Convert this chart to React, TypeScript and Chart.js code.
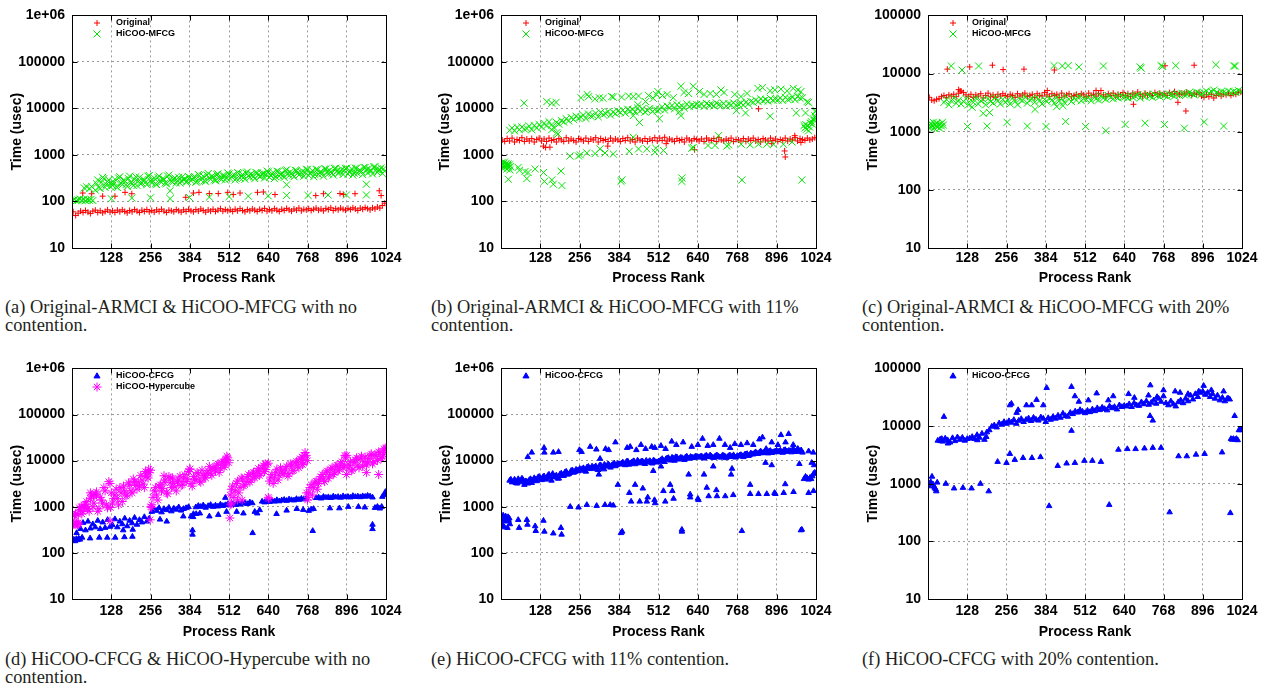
import React, { useEffect, useRef } from "react";
import { Chart, registerables } from "chart.js";
Chart.register(...registerables);

type Pair = [number, number];

// ---------- axes ----------
const X_TICKS = [128, 256, 384, 512, 640, 768, 896, 1024];
const Y_TICKS_6 = [10, 100, 1000, 10000, 100000, 1000000];
const Y_LABELS_6 = ["10", "100", "1000", "10000", "100000", "1e+06"];
const Y_TICKS_5 = [10, 100, 1000, 10000, 100000];
const Y_LABELS_5 = ["10", "100", "1000", "10000", "100000"];
const X_TITLE = "Process Rank";
const Y_TITLE = "Time (usec)";

// ---------- (a) no contention : Original vs HiCOO-MFCG ----------
// band values sampled every 8 ranks, starting at rank 4
const A_ORIG_BAND = [
  60, 50, 56, 62, 58, 64, 59, 55, 62, 65, 58, 63, 57, 61, 66, 59,
  63, 58, 65, 60, 66, 61, 57, 64, 60, 67, 62, 58, 65, 61, 67, 60,
  64, 59, 66, 61, 68, 62, 58, 65, 63, 60, 67, 63, 59, 66, 61, 68,
  63, 60, 67, 62, 69, 64, 59, 66, 62, 68, 61, 65, 70, 62, 67, 63,
  66, 61, 68, 63, 70, 64, 60, 67, 63, 69, 65, 61, 68, 64, 71, 62,
  67, 63, 70, 65, 61, 68, 64, 71, 66, 62, 69, 65, 72, 63, 68, 66,
  70, 64, 68, 72, 65, 69, 63, 71, 67, 73, 64, 70, 66, 72, 68, 65,
  71, 67, 73, 69, 64, 72, 68, 74, 70, 66, 73, 69, 76, 72, 82, 92,
];
const A_ORIG_EXTRA: Pair[] = [
  [35, 152], [64, 147], [100, 130], [140, 130], [173, 157], [195, 147], [371, 123], [396, 152],
  [414, 157], [448, 148], [477, 148], [508, 157], [526, 141], [548, 152], [605, 157], [624, 160],
  [662, 141], [795, 134], [820, 147], [874, 148], [885, 141], [923, 147], [1002, 170], [1008, 134],
];
// band from rank 76, every 8 ranks
const A_MFCG_BAND = [
  175, 290, 190, 330, 200, 270, 210,
  220, 300, 200, 340, 230, 280, 210, 350, 240, 300, 220, 330, 250, 290, 230, 360,
  250, 320, 230, 350, 260, 300, 240, 370, 270, 310, 250, 330, 280, 300, 260, 340,
  280, 330, 260, 380, 290, 350, 270, 400, 300, 340, 280, 390, 310, 360, 290, 410,
  310, 360, 290, 420, 320, 380, 300, 430, 330, 370, 310, 410, 340, 390, 320, 450,
  330, 390, 310, 450, 350, 410, 330, 480, 360, 400, 340, 460, 370, 420, 350, 490,
  360, 420, 340, 490, 380, 440, 350, 500, 390, 430, 370, 520, 400, 450, 380, 510,
  390, 450, 370, 520, 400, 470, 380, 540, 410, 460, 390, 560, 420, 480, 400, 450,
];
// second sample of the same band, from rank 80, every 8 ranks
const A_MFCG_BAND2 = [
  240, 200, 260, 310, 230, 290, 250,
  260, 210, 320, 250, 290, 230, 310, 260, 220, 340, 270, 240, 300, 260, 350, 280,
  280, 240, 330, 270, 310, 250, 350, 290, 260, 320, 280, 250, 340, 300, 270, 330,
  300, 340, 270, 360, 310, 280, 370, 320, 350, 290, 380, 330, 300, 360, 320, 390,
  340, 380, 310, 400, 350, 330, 410, 360, 390, 340, 420, 370, 350, 400, 380, 430,
  360, 420, 340, 440, 380, 360, 460, 400, 430, 370, 470, 410, 390, 450, 420, 480,
  400, 460, 380, 480, 420, 400, 500, 440, 470, 410, 510, 450, 430, 490, 460, 520,
  430, 500, 410, 520, 460, 440, 540, 480, 510, 450, 550, 490, 470, 530, 500,
];
const A_MFCG_EXTRA: Pair[] = [
  [2, 105], [8, 110], [14, 104], [20, 108], [26, 112], [32, 106], [38, 110], [44, 104],
  [50, 109], [56, 107], [62, 111], [68, 105], [40, 195], [48, 205], [58, 190], [64, 210],
  [128, 115], [195, 119], [256, 120], [320, 115], [383, 122], [448, 124], [512, 127], [575, 130],
  [640, 132], [700, 135], [770, 135], [835, 138], [895, 138], [960, 138], [700, 229], [960, 235], [320, 170],
];

// ---------- (b) 11% contention ----------
const B_ORIG_BAND = [
  2100, 1950, 2250, 2000, 2300, 1900, 2150, 2050, 2350, 1950, 2200, 2000, 2250, 1900, 2150, 2300,
  2000, 2200, 1950, 2300, 2050, 2150, 1900, 2250, 2100, 1950, 2350, 2000, 2200, 2050, 1900, 2250,
  2150, 2000, 2300, 1950, 2200, 2100, 2350, 1900, 2250, 2050, 2150, 1950, 2300, 2000, 2200, 2100,
  1950, 2250, 2050, 2350, 2000, 2150, 1900, 2300, 2100, 2000, 2250, 1950, 2200, 2050, 2350, 2000,
  2300, 2050, 2400, 2000, 2200, 2100, 1950, 2250, 2050, 2150, 1900, 2300, 2100, 2000, 2250, 2150,
  2000, 2200, 1950, 2300, 2100, 2050, 2250, 1950, 2350, 2100, 2000, 2200, 2050, 2300, 1950, 2150,
  2100, 2000, 2250, 1950, 2200, 2050, 2300, 2000, 2150, 1900, 2250, 2100, 2000, 2300, 2050, 2200,
  1950, 2150, 2050, 2300, 2000, 2200, 2100, 2350, 2000, 2250, 2150, 2050, 2300, 2100, 2200, 2350,
];
const B_ORIG_EXTRA: Pair[] = [
  [138, 1550], [145, 1450], [159, 1470], [347, 1550], [537, 1750], [629, 1300], [837, 9800],
  [922, 1220], [924, 905], [880, 1750], [975, 1850], [955, 2600],
];
// band from rank 28, every 8 ranks
const B_MFCG_BAND = [
  3400, 3800, 3300, 3900, 3500, 4000, 3600, 3700, 4200, 3500, 4300, 3800, 4500,
  4000, 4800, 4200, 5200, 4400, 3900, 5000, 4600, 5500, 5100, 6000, 5400, 6400, 5800, 6800, 6200,
  6500, 7200, 6100, 7600, 6800, 7000, 7900, 6600, 8200, 7400, 7800, 8600, 7200, 8300, 7700, 8800,
  8200, 9200, 7900, 9600, 8800, 9400, 8500, 10200, 8700, 9800, 8300, 9100, 10000, 8600, 9500, 9000,
  9600, 10800, 9200, 11200, 10300, 11600, 9800, 12000, 10700, 11400, 10200, 12500, 11000, 11800, 11300, 12200,
  11600, 12400, 11000, 12800, 11900, 12200, 11300, 13100, 12000, 11600, 12700, 11200, 12500, 12000, 13200, 11700,
  12300, 13000, 11800, 13600, 12500, 14200, 13500, 15200, 14000, 16000, 14600, 15500, 14300, 16400, 15000, 15800,
  15200, 16800, 14800, 17300, 15600, 16200, 17600, 15400, 18200, 16500, 17000,
];
const B_MFCG_EXTRA: Pair[] = [
  [1, 600], [3, 680], [5, 520], [7, 640], [9, 580], [11, 700], [13, 540], [15, 620], [17, 660], [19, 500],
  [21, 590], [23, 640], [25, 550], [27, 610], [29, 480], [31, 560],
  [24, 300], [56, 540], [84, 310], [78, 440], [111, 500], [138, 420], [141, 270], [165, 290], [170, 235],
  [195, 450], [198, 220], [60, 470], [88, 420],
  [985, 4300], [988, 3800], [991, 4500], [994, 3600], [997, 4200], [1000, 3300], [1003, 4000], [1006, 4800],
  [1009, 5200], [1012, 4600], [1015, 6000], [1018, 5500], [1020, 7000], [1022, 8500], [1023, 6200], [1024, 9000],
  [1000, 13500], [995, 14000], [990, 8000],
  [75, 13000], [149, 14000], [165, 13000], [179, 13500], [260, 17000], [280, 20000], [285, 18000], [305, 16000],
  [320, 17000], [332, 16500], [360, 18000], [365, 17500], [392, 17500], [415, 18500], [430, 18000], [447, 18500],
  [480, 19000], [495, 16500], [505, 20000], [510, 23000], [525, 19000], [540, 20000], [560, 17000], [585, 30000],
  [595, 22000], [610, 21000], [625, 30000], [645, 23000], [660, 20000], [680, 21000], [700, 20000], [715, 25000],
  [725, 22000], [760, 20000], [780, 18000], [800, 21000], [835, 27000], [850, 28000], [875, 24000], [890, 25000],
  [910, 26000], [930, 24000], [950, 27000], [965, 25000], [975, 23000], [445, 12000], [470, 14000], [430, 7000],
  [450, 5000], [515, 6000], [585, 7000], [580, 8500], [765, 9000], [875, 6800], [960, 8000], [795, 8000],
  [224, 950], [252, 950], [258, 1000], [279, 1110], [306, 1070], [322, 1350], [338, 1100], [365, 1050],
  [417, 1200], [447, 1350], [474, 1350], [501, 1150], [503, 1400], [528, 1250], [620, 1400], [673, 1600],
  [696, 1600], [734, 1550], [781, 1700], [810, 1650], [837, 1700], [864, 1700], [886, 1700], [918, 1700],
  [946, 1900], [625, 1450], [740, 1650],
  [393, 290], [390, 270], [588, 320], [588, 270], [783, 290], [978, 290],
  [181, 3000], [707, 2600], [430, 2400], [165, 3500], [185, 2800],
];

// ---------- (c) 20% contention ----------
const C_ORIG_BAND = [
  3900, 3500, 3400, 3600, 3700, 4000, 4200, 3900, 4300, 4100, 4400, 4000, 4600, 5000, 4700, 4300,
  4000, 4400, 3900, 4300, 4100, 4500, 3800, 4200, 4600, 4000, 4300, 3900, 4400, 4100, 4500, 4200,
  4000, 4400, 4200, 3900, 4500, 4100, 4300, 4600, 4000, 4200, 4400, 3900, 4500, 4200, 4100, 4700,
  4300, 4000, 4500, 4200, 4400, 3900, 4600, 4100, 4300, 4500, 4000, 4200, 4400, 4100, 4500, 4300,
  4000, 4600, 4200, 4400, 4100, 4500, 5100, 4300, 4000, 4500, 4200, 4600, 4100, 4400, 4300, 4700,
  4200, 4500, 4000, 4600, 4300, 4800, 4400, 4100, 4600, 4300, 4500, 4200, 4700, 4400, 4600, 4300,
  4500, 4200, 4700, 4400, 4900, 4500, 4300, 4600, 4400, 4800, 4500, 4200, 4600, 4400, 4700, 4100,
  3900, 4300, 4000, 4400, 3800, 4200, 4500, 4100, 4400, 4300, 4600, 4200, 4500, 4400, 4700, 4800,
];
const C_ORIG_EXTRA: Pair[] = [
  [63, 11900], [136, 13000], [210, 13900], [245, 11700], [313, 11900], [412, 11500], [773, 13600], [868, 13900],
  [670, 2960], [815, 3200], [841, 2270], [389, 5100], [548, 5100], [100, 5300], [105, 5000],
];
// band from rank 52, every 8 ranks
const C_MFCG_BAND = [
  3200, 3600, 2900, 3400, 3800, 3100, 3500, 3000, 3300, 3700,
  2900, 3500, 3200, 3800, 3000, 3400, 3600, 2900, 3700, 3300, 3100, 3900, 3400, 3000, 3600, 3200,
  3500, 3000, 3800, 3300, 2900, 3600, 3400, 4000, 3100, 3500, 3700, 3200, 3900, 3400, 3000, 3600,
  3300, 3800, 3500, 3100, 3900, 3400, 3700, 3200, 4000, 3600, 3300, 3800, 3500, 4100, 3400, 3700,
  3600, 3900, 3400, 4000, 3700, 3500, 4100, 3800, 3600, 4200, 3900, 3700, 4000, 3800, 4200, 3900,
  4000, 3800, 4200, 3900, 4100, 4300, 3800, 4200, 4000, 4400, 4100, 3900, 4300, 4200, 4000, 4400,
  4200, 4000, 4400, 4300, 4100, 4500, 4200, 4600, 4300, 4400, 4700, 4500, 4300, 4800, 4600, 4400,
  4700, 5000, 4600, 4900, 5200, 4700, 4500, 4900, 4800, 4600, 5000, 4700, 4900, 4800, 5100, 4900,
];
const C_MFCG_EXTRA: Pair[] = [
  [2, 1250], [5, 1150], [8, 1400], [11, 1200], [14, 1300], [17, 1450], [20, 1150], [23, 1350], [26, 1250],
  [29, 1400], [32, 1200], [35, 1300], [38, 1150], [41, 1350], [44, 1250], [47, 1450], [50, 1300],
  [129, 1230], [193, 1250], [258, 1450], [324, 1250], [385, 1230], [449, 1500], [514, 1230], [580, 1040],
  [643, 1330], [708, 1400], [771, 1330], [836, 1150], [901, 1470], [964, 1250],
  [76, 13500], [111, 11500], [165, 13500], [411, 13700], [438, 13500], [457, 13700], [492, 13000], [572, 13500],
  [692, 13000], [695, 12400], [760, 13700], [765, 13300], [808, 13700], [939, 14200], [997, 13500], [1002, 13500],
  [180, 2070], [201, 2130], [144, 2640], [349, 2420], [420, 2700], [440, 2800],
];

// ---------- (d) no contention : HiCOO-CFCG vs HiCOO-Hypercube ----------
// band from rank 28, every 8 ranks
const D_CFCG_BAND = [
  330, 450, 310, 480, 340, 420, 360, 500, 330, 460, 350, 520, 370,
  400, 540, 360, 480, 420, 560, 380, 500, 440, 580, 410, 520, 460, 600, 480, 560,
  780, 880, 820, 940, 760, 900, 850, 960, 800, 920, 870, 980, 830, 900, 940, 990,
  620, 700, 980, 1050, 1000, 1080, 960, 1040, 1100, 1000, 1070, 1020, 1120, 1050, 1090, 1150,
  1080, 1150, 1100, 1200, 1120, 1180, 1220, 1150, 1250, 1200, 780, 720, 850, 1300, 1250, 1350,
  1280, 1350, 1300, 1400, 1320, 1380, 1420, 1350, 1450, 1400, 1380, 1480, 1420, 1500, 1450, 1520,
  820, 880, 900, 1550, 1600, 1520, 1650, 1580, 1620, 1560, 1680, 1600, 1640, 1580, 1700, 1620,
  1650, 1600, 1720, 1640, 1680, 1620, 1700, 1660, 1740, 1680, 1600, 950, 1000, 920, 1650, 1900,
];
const D_CFCG_EXTRA: Pair[] = [
  [2, 185], [6, 195], [10, 180], [14, 200], [18, 190], [22, 205], [26, 195], [15, 270],
  [33, 215], [59, 207], [89, 215], [115, 215], [141, 215], [171, 220], [197, 225], [167, 310], [198, 320],
  [287, 530], [309, 480], [363, 620], [417, 720], [448, 620], [477, 670], [504, 780], [537, 780], [559, 720],
  [667, 700], [700, 830], [733, 900], [754, 860], [841, 930], [872, 930], [901, 1000], [934, 1000], [955, 970],
  [393, 310], [393, 250], [589, 270], [785, 300], [980, 330], [980, 410], [500, 1570], [1022, 2100],
  [1018, 1800], [1010, 1000], [405, 700], [395, 600],
];
// band from rank 4, every 8 ranks
const D_HYPER_BAND = [
  420, 700, 450, 850, 780, 1100, 900, 1500, 1000, 1900, 800, 1600, 1200, 2200, 950, 3200,
  1200, 1800, 1500, 2600, 1300, 2200, 1800, 3000, 2000, 3500, 2400, 2800, 3800, 2600, 4500, 5500,
  1100, 2200, 1800, 2800, 2200, 3400, 2000, 4500, 2600, 3200, 2200, 3800, 2900, 4200, 3500, 5800,
  3200, 4500, 3800, 5200, 3400, 4800, 4200, 6000, 5200, 7000, 6000, 8500, 6800, 9500, 8000, 11500,
  1800, 2800, 2200, 3600, 2600, 4000, 3000, 4500, 3400, 5200, 4200, 6000, 4800, 7000, 5800, 8200,
  3600, 5000, 4200, 6500, 4800, 6000, 5400, 7500, 5200, 8000, 6200, 9500, 7000, 10500, 8800, 13000,
  2000, 3000, 2600, 3600, 3200, 4500, 3800, 5600, 4200, 6500, 5000, 7500, 6000, 8500, 7000, 12000,
  7000, 9500, 6500, 10500, 8000, 11000, 7500, 12000, 9000, 13000, 8500, 13500, 10000, 15000, 12000, 17000,
];
// second sample of the same cloud, from rank 8, every 8 ranks
const D_HYPER_BAND2 = [
  650, 430, 950, 700, 1000, 1300, 800, 1800, 1200, 2100, 900, 1400, 2600, 1100, 3500, 2000,
  1500, 2400, 1100, 2000, 2800, 1700, 3300, 2200, 4000, 2900, 3400, 4800, 3100, 5200, 4200, 6200,
  1600, 2600, 1400, 3000, 2500, 3800, 1900, 3300, 4200, 2700, 3500, 4600, 3000, 5000, 4000, 6500,
  2800, 4000, 5500, 3600, 6200, 4400, 5400, 7500, 4800, 6500, 8000, 5500, 9000, 7200, 10500, 9000,
  2400, 1600, 3200, 2000, 4200, 2800, 3500, 5000, 3800, 5600, 4600, 6800, 5200, 7800, 6400, 8800,
  4400, 3200, 5600, 3800, 7000, 5200, 6600, 4600, 8500, 6000, 9000, 7600, 11000, 8200, 12500, 10000,
  2600, 1800, 3400, 2400, 4000, 5000, 3500, 6000, 4600, 7000, 5400, 8000, 6500, 9500, 8000, 13000,
  8000, 6000, 9000, 11500, 7000, 12500, 9500, 8000, 11000, 14000, 9500, 12500, 15500, 11000, 13500, 18000,
];
const D_HYPER_EXTRA: Pair[] = [
  [1, 400], [6, 430], [10, 410], [14, 440], [18, 405], [22, 425], [3, 650], [12, 700], [20, 680],
  [124, 490], [126, 960], [255, 520], [257, 1000], [260, 960], [515, 570], [518, 1100], [520, 1200],
  [540, 1400], [555, 1400], [640, 1600], [642, 1500], [765, 2000], [768, 1400], [770, 1600], [895, 5000],
  [1000, 5000], [960, 5500], [60, 2000], [70, 1700], [80, 1800], [300, 4700], [322, 4200], [385, 6600],
  [250, 6500], [240, 5800], [500, 10000], [505, 12500], [630, 8500], [760, 15000], [750, 12000],
  [890, 13000], [1024, 19000], [1018, 18000], [30, 1000], [40, 1100], [50, 900],
];

// ---------- (e) 11% contention : HiCOO-CFCG ----------
// band from rank 28, every 8 ranks
const E_CFCG_BAND = [
  3700, 3400, 3900, 3200, 3600, 4100, 3000, 3500, 3800, 3300, 4200, 3600, 4500,
  3800, 4600, 4000, 5000, 3700, 4400, 4800, 4100, 5300, 4700, 5800, 5100, 6000, 5500, 6400, 5900,
  6200, 6900, 5800, 7400, 6600, 7000, 7600, 6300, 8000, 7300, 7700, 8400, 7100, 8200, 7600, 8600,
  8300, 9200, 8000, 9700, 8700, 9400, 8400, 10100, 8800, 9700, 8500, 9300, 9900, 8700, 9600, 9200,
  9800, 10900, 9400, 11300, 10500, 11700, 10000, 11800, 11000, 11500, 10400, 12300, 11100, 11800, 11400, 12200,
  11700, 12500, 11200, 12900, 12000, 12300, 11500, 13000, 12100, 11700, 12800, 11400, 12600, 12100, 13200, 11800,
  12500, 13300, 12000, 13800, 12700, 14500, 13700, 15300, 14200, 16000, 14800, 15600, 14400, 16300, 15200, 15800,
  15300, 16700, 14900, 17100, 15700, 16200, 17400, 15500, 17900, 16400, 15000,
];
// second sample of the same band, from rank 32, every 8 ranks
const E_CFCG_BAND2 = [
  3900, 3500, 3300, 4000, 3400, 3800, 3600, 3200, 4000, 3700, 3900, 4300, 4100,
  4400, 3900, 4700, 4300, 5200, 4600, 4100, 5100, 4700, 5600, 5000, 5400, 6200, 5700, 6100, 6700,
  6600, 6100, 7200, 6800, 7500, 7100, 6500, 7800, 7000, 8200, 7500, 8000, 7900, 8800, 8100, 8400,
  8800, 8500, 9500, 8200, 9100, 9800, 8900, 9300, 9600, 9000, 10000, 9400, 9100, 10200, 9300, 9700,
  10300, 9900, 10800, 11500, 10100, 11200, 12000, 10600, 11600, 10900, 11900, 11300, 12100, 11600, 12400, 12000,
  12200, 11900, 12600, 12000, 13100, 11700, 12400, 12800, 11900, 13000, 12300, 12000, 13100, 12500, 11900, 12700,
  13000, 12600, 13500, 14000, 13100, 13900, 14600, 14100, 15000, 14500, 15400, 15000, 16100, 14700, 15600, 16600,
  16000, 15400, 16900, 15800, 16500, 15200, 17000, 16200, 15600, 16800,
];
const E_CFCG_EXTRA: Pair[] = [
  [1, 450], [3, 600], [5, 380], [7, 650], [9, 520], [11, 360], [13, 580], [15, 620], [17, 480], [19, 540],
  [21, 350], [23, 600], [25, 500], [27, 560], [29, 420],
  [56, 520], [59, 350], [84, 520], [86, 410], [111, 380], [113, 300], [138, 500], [141, 290], [170, 265],
  [195, 350], [197, 250],
  [87, 12000], [100, 15000], [140, 19000], [141, 15000], [170, 15000], [187, 15500], [255, 17000], [262, 15500],
  [290, 20000], [310, 17500], [322, 11000], [340, 18000], [350, 17000], [372, 25000], [410, 19000], [420, 20000],
  [440, 17000], [455, 22000], [470, 18000], [490, 20000], [500, 19000], [520, 21000], [535, 18000], [555, 26000],
  [570, 22000], [592, 25000], [620, 20000], [640, 22000], [655, 30000], [672, 21000], [690, 22000], [710, 30000],
  [728, 22000], [745, 19000], [760, 23000], [780, 22000], [800, 24000], [820, 22000], [840, 29000], [850, 32000],
  [862, 18000], [880, 25000], [900, 22000], [910, 36000], [925, 25000], [935, 38000], [950, 22000], [965, 18000],
  [1000, 16000], [1010, 9000],
  [318, 5000], [335, 6500], [495, 6000], [520, 7500], [610, 5000], [660, 5000], [690, 7500], [748, 5000],
  [751, 6700], [860, 9000], [880, 8000], [970, 8500],
  [225, 1000], [252, 970], [279, 1100], [311, 1050], [338, 1100], [355, 1100], [365, 1070], [380, 3000],
  [417, 2000], [423, 1300], [436, 3000], [451, 1300], [461, 2500], [474, 1300], [477, 1600], [499, 1400],
  [501, 1200], [528, 2200], [534, 1300], [550, 3000], [557, 2200], [561, 1500], [615, 1850], [615, 1600],
  [640, 1500], [642, 1400], [669, 2600], [675, 1700], [700, 2300], [702, 1700], [729, 1700], [755, 1800],
  [810, 3000], [810, 1900], [837, 1900], [864, 1900], [889, 2000], [892, 1900], [919, 2000], [924, 3100],
  [951, 2100], [1000, 2000], [1016, 2200],
  [394, 290], [390, 270], [588, 320], [588, 290], [783, 300], [978, 320], [975, 310],
  [985, 4000], [990, 4500], [995, 4200], [1000, 3900], [1005, 4300], [1008, 4000], [1012, 4600], [1016, 5200],
  [1020, 5500], [1024, 5300], [1018, 8000], [1015, 15000],
];

// ---------- (f) 20% contention : HiCOO-CFCG ----------
// band from rank 32, every 8 ranks
const F_CFCG_BAND = [
  5600, 5900, 5400, 6100, 5700, 5200, 6200, 5500, 6400, 5800, 6300, 5600, 6000,
  6100, 6500, 6000, 7000, 6300, 7400, 5800, 7800, 8500, 9800, 10300, 9500, 11200, 10600, 11800, 11000,
  12200, 11500, 12800, 11000, 12400, 13300, 11800, 12900, 13600, 12300, 14000, 13000, 12500, 14200, 13500, 11800,
  13800, 12900, 14500, 13500, 15200, 14000, 16500, 15000, 14600, 17000, 16200, 18000, 17200, 19000, 17800, 16800,
  18500, 17500, 19500, 18200, 20500, 19000, 21000, 19800, 18800, 22000, 20500, 21500, 19500, 23000, 21500, 22500,
  22000, 24000, 21500, 25000, 23000, 22500, 26000, 24000, 27000, 23500, 25500, 28000, 24500, 30000, 26500, 33000,
  25000, 23000, 27000, 24000, 22000, 26000, 28000, 25000, 30000, 27000, 34000, 29000, 36000, 32000, 38000, 40000,
  35000, 38000, 32000, 36000, 30000, 34000, 28000, 31000, 27000, 30000, 29000,
];
const F_CFCG_EXTRA: Pair[] = [
  [2, 905], [6, 1000], [9, 1070], [13, 1330], [16, 980], [19, 900], [22, 850], [25, 800], [27, 740], [30, 1050],
  [58, 1000], [85, 830], [114, 850], [142, 830], [171, 1000], [198, 740],
  [40, 5500], [45, 6000], [52, 14500], [65, 5000], [161, 5700], [190, 6500],
  [267, 23000], [272, 24500], [289, 17000], [294, 19000], [321, 23000], [338, 23000], [354, 28500], [376, 23000],
  [387, 46000], [468, 48000], [479, 33000], [492, 26500], [523, 28000], [550, 37000], [588, 28000], [604, 33000],
  [654, 36000], [673, 31000], [719, 34000], [725, 51000], [747, 32000], [768, 42000], [806, 40000], [822, 38000],
  [848, 36000], [883, 40000], [899, 50000], [924, 42000], [964, 40000], [980, 30000], [724, 15000], [733, 12500],
  [468, 8300],
  [227, 2400], [256, 2300], [267, 3300], [283, 2600], [310, 2800], [339, 2800], [367, 2900], [423, 2040],
  [452, 2250], [479, 2300], [510, 2500], [536, 2500], [564, 2400], [621, 3900], [650, 4000], [677, 4000],
  [706, 4100], [733, 4200], [760, 4200], [817, 3000], [844, 3000], [874, 3200], [902, 3300], [959, 3500],
  [395, 410], [591, 430], [788, 320], [986, 310],
  [988, 6000], [992, 5800], [996, 6000], [1000, 15000], [1002, 5800], [1006, 6000], [1010, 5700], [1014, 8500],
  [1018, 8600], [1022, 8500], [1024, 8700],
];

// ---------- captions ----------
const CAPTION_A = ["(a) Original-ARMCI & HiCOO-MFCG with no", "contention."];
const CAPTION_B = ["(b) Original-ARMCI & HiCOO-MFCG with 11%", "contention."];
const CAPTION_C = ["(c) Original-ARMCI & HiCOO-MFCG with 20%", "contention."];
const CAPTION_D = ["(d) HiCOO-CFCG & HiCOO-Hypercube with no", "contention."];
const CAPTION_E = ["(e) HiCOO-CFCG with 11% contention."];
const CAPTION_F = ["(f) HiCOO-CFCG with 20% contention."];

// ---------- helpers ----------
const RED = "#ff0000";
const GREEN = "#00e600";
const BLUE = "#0000ff";
const MAGENTA = "#ff00ff";
const GRID_COLOR = "#9a9a9a";
const SANS = '"Liberation Sans", Arial, sans-serif';

type Pt = { x: number; y: number };
function band(values: number[], start: number, step: number): Pt[] {
  return values.map((v, i) => ({ x: start + i * step, y: v }));
}
function pairs(p: Pair[]): Pt[] {
  return p.map(([x, y]) => ({ x, y }));
}

type Series = { label: string; style: string; color: string; radius: number; data: Pt[] };
const ORIG = (...parts: Pt[][]): Series => ({ label: "Original", style: "cross", color: RED, radius: 3, data: parts.flat() });
const MFCG = (...parts: Pt[][]): Series => ({ label: "HiCOO-MFCG", style: "crossRot", color: GREEN, radius: 5, data: parts.flat() });
const CFCG = (...parts: Pt[][]): Series => ({ label: "HiCOO-CFCG", style: "triangle", color: BLUE, radius: 3.2, data: parts.flat() });
const HYPER = (...parts: Pt[][]): Series => ({ label: "HiCOO-Hypercube", style: "star", color: MAGENTA, radius: 4.5, data: parts.flat() });

function drawMarker(ctx: CanvasRenderingContext2D, style: string, x: number, y: number, r: number, color: string) {
  ctx.save();
  ctx.strokeStyle = color;
  ctx.fillStyle = color;
  ctx.lineWidth = 1;
  ctx.beginPath();
  if (style === "cross" || style === "star") {
    ctx.moveTo(x - r, y); ctx.lineTo(x + r, y);
    ctx.moveTo(x, y - r); ctx.lineTo(x, y + r);
  }
  if (style === "crossRot" || style === "star") {
    const d = r * 0.7071;
    ctx.moveTo(x - d, y - d); ctx.lineTo(x + d, y + d);
    ctx.moveTo(x - d, y + d); ctx.lineTo(x + d, y - d);
  }
  ctx.stroke();
  if (style === "triangle") {
    ctx.beginPath();
    ctx.moveTo(x, y - r);
    ctx.lineTo(x + r * 0.95, y + r * 0.6);
    ctx.lineTo(x - r * 0.95, y + r * 0.6);
    ctx.closePath();
    ctx.fill();
    ctx.stroke();
  }
  ctx.restore();
}

const framePlugin = {
  id: "gnuFrame",
  afterDraw(chart: any) {
    const { ctx, chartArea: a } = chart;
    ctx.save();
    ctx.strokeStyle = "#000";
    ctx.lineWidth = 1;
    const L = Math.round(a.left) + 0.5, T = Math.round(a.top) + 0.5;
    const R = Math.round(a.right) + 0.5, B = Math.round(a.bottom) + 0.5;
    ctx.strokeRect(L, T, R - L, B - T);
    const xs = chart.scales.x, ys = chart.scales.y;
    ctx.beginPath();
    for (const v of X_TICKS) {
      const px = Math.round(xs.getPixelForValue(v)) + 0.5;
      ctx.moveTo(px, B); ctx.lineTo(px, B - 5);
      ctx.moveTo(px, T); ctx.lineTo(px, T + 5);
    }
    for (const t of ys.ticks) {
      const py = Math.round(ys.getPixelForValue(t.value)) + 0.5;
      ctx.moveTo(L, py); ctx.lineTo(L + 5, py);
      ctx.moveTo(R, py); ctx.lineTo(R - 5, py);
    }
    ctx.stroke();
    ctx.font = `bold 9px ${SANS}`;
    ctx.textBaseline = "middle";
    ctx.textAlign = "left";
    chart.data.datasets.forEach((d: any, i: number) => {
      const y = Math.round(a.top + 8 + i * 11);
      drawMarker(ctx, d.pointStyle, Math.round(a.left + 25), y, d.pointRadius, d.pointBorderColor);
      ctx.fillStyle = "#000";
      ctx.fillText(d.label, a.left + 44, y);
    });
    ctx.restore();
  },
};

type PanelCfg = {
  left: number; top: number; w: number; h: number;
  yW: number; xH: number; padTop: number; padRight: number;
  yTitlePad: number; xTitlePad: number; xTickPad: number;
  yMax: number; yTicks: number[]; yLabels: string[];
  series: Series[];
};

function buildConfig(p: PanelCfg): any {
  const font = { family: SANS, size: 14, weight: "bold" as const };
  const grid = { color: GRID_COLOR, lineWidth: 1, drawTicks: false };
  const border = { display: false, dash: [2, 3] };
  const n = p.series.length;
  return {
    type: "scatter",
    data: {
      datasets: p.series.map((s, i) => ({
        label: s.label,
        data: s.data,
        pointStyle: s.style,
        pointRadius: s.radius,
        pointHoverRadius: s.radius,
        pointBorderColor: s.color,
        pointBackgroundColor: s.color,
        pointBorderWidth: 1,
        order: n - i,
      })),
    },
    options: {
      animation: false,
      responsive: false,
      maintainAspectRatio: false,
      events: [],
      layout: { padding: { top: p.padTop, right: p.padRight, bottom: 0, left: 0 } },
      plugins: { legend: { display: false }, tooltip: { enabled: false } },
      scales: {
        x: {
          type: "linear",
          min: 0,
          max: 1024,
          afterBuildTicks: (s: any) => { s.ticks = X_TICKS.map((v) => ({ value: v })); },
          afterFit: (s: any) => { s.height = p.xH; },
          ticks: { font, color: "#000", padding: p.xTickPad, autoSkip: false, maxRotation: 0, minRotation: 0, callback: (v: any) => String(v) },
          grid,
          border,
          title: { display: true, text: X_TITLE, font, color: "#000", padding: { top: 0, bottom: p.xTitlePad } },
        },
        y: {
          type: "logarithmic",
          min: 10,
          max: p.yMax,
          afterBuildTicks: (s: any) => { s.ticks = p.yTicks.map((v) => ({ value: v })); },
          afterFit: (s: any) => { s.width = p.yW; },
          ticks: { font, color: "#000", padding: 7, autoSkip: false, callback: (_v: any, i: number) => p.yLabels[i] },
          grid,
          border,
          title: { display: true, text: Y_TITLE, font, color: "#000", padding: { top: p.yTitlePad, bottom: 0 } },
        },
      },
    },
    plugins: [framePlugin],
  };
}

function Panel({ cfg }: { cfg: PanelCfg }) {
  const ref = useRef<HTMLCanvasElement>(null);
  useEffect(() => {
    const chart = new Chart(ref.current as HTMLCanvasElement, buildConfig(cfg));
    return () => chart.destroy();
  }, [cfg]);
  return (
    <canvas
      ref={ref}
      width={cfg.w}
      height={cfg.h}
      style={{ position: "absolute", left: cfg.left, top: cfg.top, width: cfg.w, height: cfg.h }}
    />
  );
}

function Caption({ lines, left, top }: { lines: string[]; left: number; top: number }) {
  return (
    <div
      style={{
        position: "absolute", left, top, fontFamily: '"Liberation Serif", "Times New Roman", serif',
        fontSize: 18.4, lineHeight: "18px", color: "#231f20", whiteSpace: "pre",
      }}
    >
      {lines.map((l, i) => (<div key={i}>{l}</div>))}
    </div>
  );
}

const COLS = [
  { left: 0, w: 420, yW: 72, padRight: 34, yTitlePadTop: 8.6, yTitlePadBot: 8.6 },
  { left: 425, w: 425, yW: 76, padRight: 34, yTitlePadTop: 11.6, yTitlePadBot: 12.6 },
  { left: 855, w: 413, yW: 73, padRight: 26, yTitlePadTop: 9.6, yTitlePadBot: 9.6 },
];

function topCfg(c: number, yMax: number, yTicks: number[], yLabels: string[], series: Series[]): PanelCfg {
  const col = COLS[c];
  return { left: col.left, top: 0, w: col.w, h: 290, yW: col.yW, xH: 42, padTop: 11, padRight: col.padRight,
    yTitlePad: col.yTitlePadTop, xTitlePad: 3.6, xTickPad: 2, yMax, yTicks, yLabels, series };
}
function botCfg(c: number, yMax: number, yTicks: number[], yLabels: string[], series: Series[]): PanelCfg {
  const col = COLS[c];
  return { left: col.left, top: 353, w: col.w, h: 292, yW: col.yW, xH: 46, padTop: 11, padRight: col.padRight,
    yTitlePad: col.yTitlePadBot, xTitlePad: 4.6, xTickPad: 4, yMax, yTicks, yLabels, series };
}

const PANELS: PanelCfg[] = [
  topCfg(0, 1e6, Y_TICKS_6, Y_LABELS_6, [
    ORIG(band(A_ORIG_BAND, 4, 8), pairs(A_ORIG_EXTRA)),
    MFCG(band(A_MFCG_BAND, 76, 8), band(A_MFCG_BAND2, 80, 8), pairs(A_MFCG_EXTRA)),
  ]),
  topCfg(1, 1e6, Y_TICKS_6, Y_LABELS_6, [
    ORIG(band(B_ORIG_BAND, 4, 8), pairs(B_ORIG_EXTRA)),
    MFCG(band(B_MFCG_BAND, 28, 8), pairs(B_MFCG_EXTRA)),
  ]),
  topCfg(2, 1e5, Y_TICKS_5, Y_LABELS_5, [
    ORIG(band(C_ORIG_BAND, 4, 8), pairs(C_ORIG_EXTRA)),
    MFCG(band(C_MFCG_BAND, 52, 8), pairs(C_MFCG_EXTRA)),
  ]),
  botCfg(0, 1e6, Y_TICKS_6, Y_LABELS_6, [
    CFCG(band(D_CFCG_BAND, 28, 8), pairs(D_CFCG_EXTRA)),
    HYPER(band(D_HYPER_BAND, 4, 8), band(D_HYPER_BAND2, 8, 8), pairs(D_HYPER_EXTRA)),
  ]),
  botCfg(1, 1e6, Y_TICKS_6, Y_LABELS_6, [
    CFCG(band(E_CFCG_BAND, 28, 8), band(E_CFCG_BAND2, 32, 8), pairs(E_CFCG_EXTRA)),
  ]),
  botCfg(2, 1e5, Y_TICKS_5, Y_LABELS_5, [
    CFCG(band(F_CFCG_BAND, 32, 8), pairs(F_CFCG_EXTRA)),
  ]),
];

export default function App() {
  return (
    <div style={{ position: "absolute", left: 0, top: 0, width: 1268, height: 692, background: "#fff", overflow: "hidden" }}>
      {PANELS.map((p, i) => (<Panel key={i} cfg={p} />))}
      <Caption lines={CAPTION_A} left={5} top={298} />
      <Caption lines={CAPTION_B} left={431} top={298} />
      <Caption lines={CAPTION_C} left={862} top={298} />
      <Caption lines={CAPTION_D} left={5} top={650} />
      <Caption lines={CAPTION_E} left={431} top={650} />
      <Caption lines={CAPTION_F} left={862} top={650} />
    </div>
  );
}
